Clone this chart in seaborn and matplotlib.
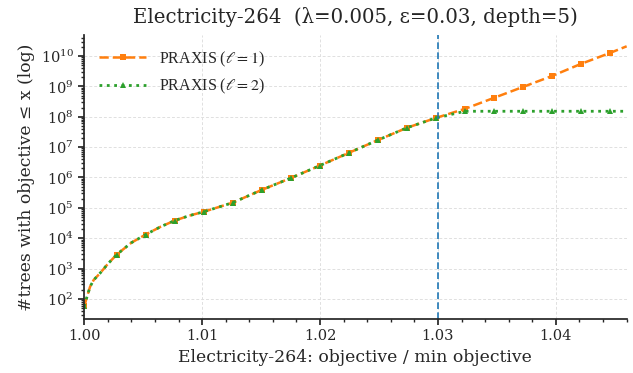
import numpy as np
import pandas as pd
import matplotlib
matplotlib.use("Agg")
import matplotlib.pyplot as plt
import seaborn as sns
from matplotlib.ticker import MultipleLocator, LogLocator, NullFormatter

# ---- data ----
x_vals = [1.0000, 1.0002, 1.0005, 1.0008, 1.0014, 1.0020, 1.00276, 1.0040,
          1.00522, 1.0065, 1.00768, 1.0089, 1.01014, 1.0126, 1.01506, 1.01752,
          1.01998, 1.02244, 1.0249, 1.02736, 1.02982, 1.03228, 1.03474, 1.0372,
          1.03966, 1.04212, 1.04458, 1.0460]
log_l1 = [1.75, 2.02, 2.40, 2.62, 2.87, 3.15, 3.46, 3.85,
          4.12, 4.38, 4.58, 4.74, 4.87, 5.17, 5.59, 5.98,
          6.39, 6.81, 7.23, 7.635, 7.96, 8.26, 8.62, 8.98,
          9.34, 9.74, 10.10, 10.32]
log_l2 = [1.75, 2.02, 2.40, 2.62, 2.87, 3.15, 3.46, 3.85,
          4.12, 4.38, 4.58, 4.74, 4.87, 5.17, 5.59, 5.98,
          6.39, 6.81, 7.23, 7.635, 7.96, 8.18, 8.18, 8.18,
          8.18, 8.18, 8.18, 8.18]
marker_idx = [0, 6, 8, 10, 12, 13, 14, 15, 16, 17, 18, 19, 20, 21, 22, 23, 24, 25, 26]
eps = 0.03
title = "Electricity-264  (λ=0.005, ε=0.03, depth=5)"
xlabel = "Electricity-264: objective / min objective"
ylabel = "#trees with objective ≤ x (log)"
labels = [r"PRAXIS ($\ell=1$)", r"PRAXIS ($\ell=2$)"]

df = pd.DataFrame({
    "x": x_vals + x_vals,
    "y": [10 ** v for v in log_l1] + [10 ** v for v in log_l2],
    "series": [labels[0]] * len(x_vals) + [labels[1]] * len(x_vals),
})

sns.set_theme(style="ticks")
plt.rcParams["font.family"] = ["DejaVu Serif"]
plt.rcParams["mathtext.fontset"] = "stix"

fig, ax = plt.subplots(figsize=(6.33, 3.73), dpi=100)

styles = {
    labels[0]: dict(color="#ff7f0e", ls="--", marker="s", ms=4.5, lw=1.8),
    labels[1]: dict(color="#2ca02c", ls=":", marker="^", ms=4.5, lw=2.0),
}
for lab in labels:
    sub = df[df["series"] == lab]
    st = styles[lab]
    sns.lineplot(data=sub, x="x", y="y", ax=ax, label=lab, color=st["color"],
                 linestyle=st["ls"], marker=st["marker"], markersize=st["ms"],
                 markeredgewidth=0, linewidth=st["lw"], markevery=marker_idx)

ax.axvline(1 + eps, color="#1f77b4", ls=(0, (4, 2)), lw=1.2)

ax.set_yscale("log")
ax.set_xlim(1.0, 1.046)
ax.set_ylim(10 ** 1.34, 10 ** 10.69)
ax.xaxis.set_major_locator(MultipleLocator(0.01))
ax.xaxis.set_minor_locator(MultipleLocator(0.002))
ax.xaxis.set_major_formatter(matplotlib.ticker.FormatStrFormatter("%.2f"))
ax.yaxis.set_major_locator(LogLocator(base=10, numticks=20))
ax.yaxis.set_minor_locator(LogLocator(base=10, subs=np.arange(2, 10), numticks=20))
ax.yaxis.set_minor_formatter(NullFormatter())
ax.tick_params(which="both", direction="out", labelsize=10.5)
ax.tick_params(which="major", length=4)
ax.tick_params(which="minor", length=2.5)

ax.grid(True, which="major", color="#e0e0e0", ls=(0, (3, 2)), lw=0.7)
sns.despine(ax=ax)

ax.set_title(title, fontsize=14.2, pad=9)
ax.set_xlabel(xlabel, fontsize=12.4)
ax.set_ylabel(ylabel, fontsize=12.3)

leg = ax.legend(frameon=False, loc="upper left", prop={"family": "Liberation Serif", "size": 11.5},
                handlelength=3.0, bbox_to_anchor=(0.0, 1.0))

fig.subplots_adjust(left=0.133, right=0.99, top=0.906, bottom=0.145)
fig.savefig("out.png", dpi=100)
